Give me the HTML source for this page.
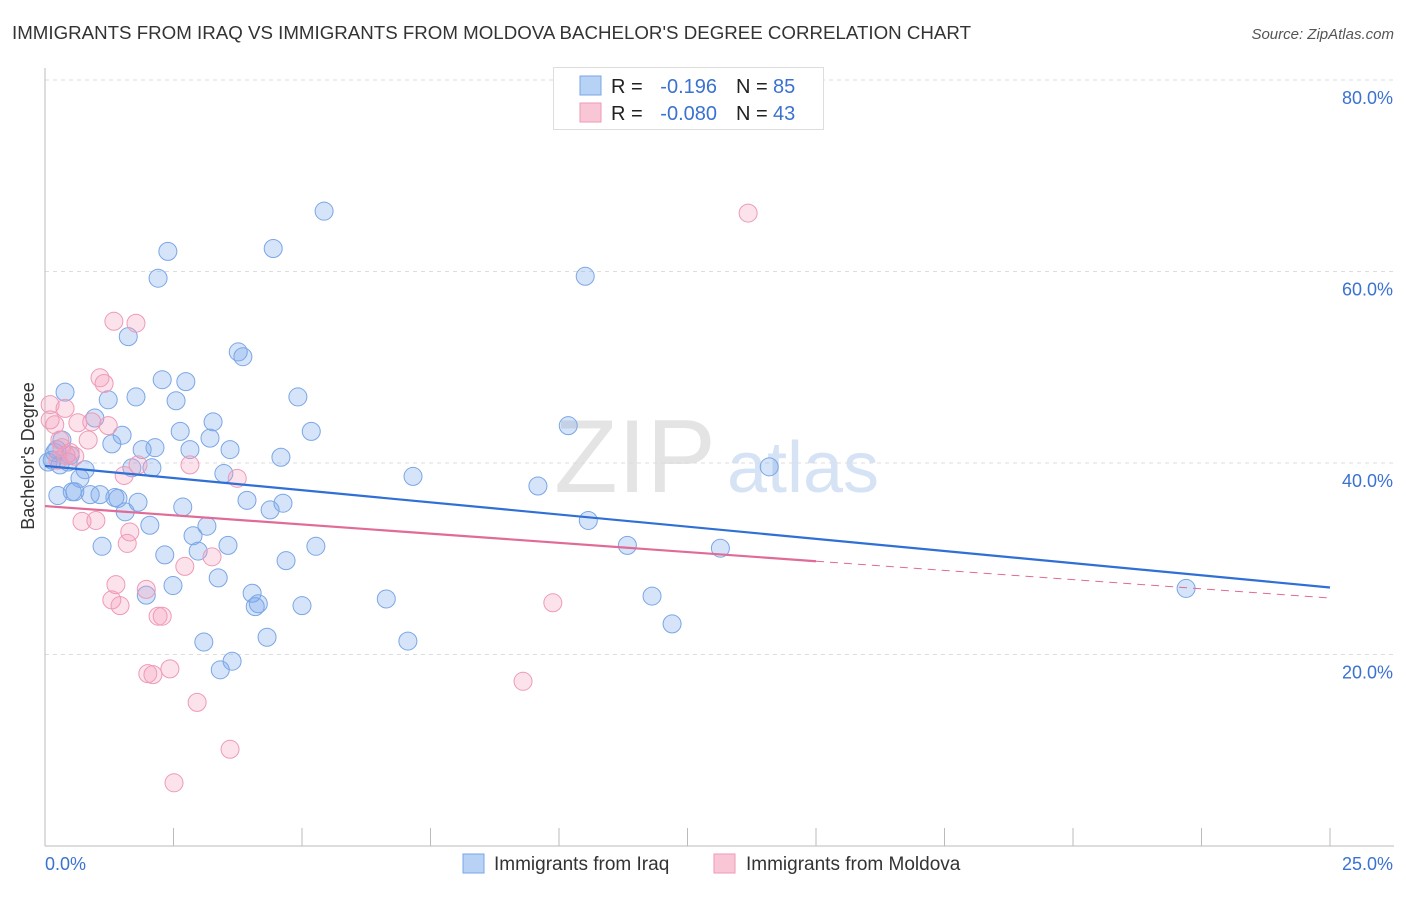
<!DOCTYPE html>
<html><head><meta charset="utf-8">
<style>
body{margin:0;background:#fff;font-family:"Liberation Sans",sans-serif;}
svg text{font-family:"Liberation Sans",sans-serif;}
</style></head>
<body>
<svg id="chart" width="1406" height="892" xmlns="http://www.w3.org/2000/svg">
<text x="12" y="39" font-size="18" fill="#333" textLength="959" lengthAdjust="spacingAndGlyphs">IMMIGRANTS FROM IRAQ VS IMMIGRANTS FROM MOLDOVA BACHELOR'S DEGREE CORRELATION CHART</text>
<text x="1394" y="39" font-size="15" fill="#555" font-style="italic" text-anchor="end">Source: ZipAtlas.com</text>
<g>
<text x="635" y="492" font-size="104" fill="#e4e4e4" font-family="Liberation Serif" text-anchor="middle">ZIP</text>
<text x="803" y="492" font-size="72" fill="#d6e3f5" text-anchor="middle">atlas</text>
</g>
<g id="grid"></g>
<g id="axes"></g>
<g id="pts"></g>
<g id="trends"></g>
<text transform="translate(34,456) rotate(-90)" font-size="18" fill="#333" text-anchor="middle">Bachelor's Degree</text>
<g>
<rect x="553.5" y="67.5" width="270" height="62" fill="#fff" stroke="#ddd"/>
<rect x="580" y="76" width="21" height="19" fill="#b8d2f5" stroke="#7aa6e6"/>
<rect x="580" y="103" width="21" height="19" fill="#f9c6d6" stroke="#ee9ab6"/>
<text x="611" y="93" font-size="20" fill="#222">R = </text><text x="717" y="93" font-size="20" fill="#3a72d0" text-anchor="end">-0.196</text>
<text x="736" y="93" font-size="20" fill="#222">N = </text><text x="773" y="93" font-size="20" fill="#3a72d0">85</text>
<text x="611" y="120" font-size="20" fill="#222">R = </text><text x="717" y="120" font-size="20" fill="#3a72d0" text-anchor="end">-0.080</text>
<text x="736" y="120" font-size="20" fill="#222">N = </text><text x="773" y="120" font-size="20" fill="#3a72d0">43</text>
</g>
<g>
<rect x="463" y="854" width="21" height="19" fill="#b8d2f5" stroke="#7aa6e6"/>
<text x="494" y="870" font-size="19" fill="#333">Immigrants from Iraq</text>
<rect x="714" y="854" width="21" height="19" fill="#f9c6d6" stroke="#ee9ab6"/>
<text x="746" y="870" font-size="19" fill="#333">Immigrants from Moldova</text>
</g>
</svg>
<script>
const yTicks=[20,40,60,80];
const yTickLabels=["20.0%","40.0%","60.0%","80.0%"];
const xTickValues=[0,2.5,5,7.5,10,12.5,15,17.5,20,22.5,25];
const xEndLabels=["0.0%","25.0%"];
const iraqX=[0.14,0.23,0.29,0.39,0.33,0.49,0.25,0.58,0.68,0.78,0.88,0.97,1.07,1.11,1.23,1.30,1.36,1.42,1.50,1.56,1.62,1.69,1.77,1.81,1.89,1.97,2.04,2.08,2.14,2.20,2.28,2.33,2.39,2.49,2.55,2.63,2.68,2.74,2.82,2.88,2.98,3.09,3.15,3.21,3.27,3.37,3.41,3.48,3.56,3.60,3.64,3.76,3.85,3.93,4.03,4.09,4.15,4.32,4.38,4.44,4.59,4.63,4.69,4.92,5.00,5.18,5.27,5.43,6.64,7.06,7.16,9.59,10.18,10.51,10.57,11.33,11.81,12.20,13.14,14.09,22.20,0.06,0.19,0.45,0.53];
const iraqY=[40.3,41.4,39.8,47.4,42.4,40.8,36.6,37.0,38.4,39.3,36.7,44.7,36.7,31.3,46.6,42.0,36.4,36.3,42.9,34.9,53.2,39.5,46.9,35.9,41.4,26.2,33.5,39.5,41.6,59.3,48.7,30.4,62.1,27.2,46.5,43.3,35.4,48.5,41.4,32.4,30.8,21.3,33.4,42.6,44.3,28.0,18.4,38.9,31.4,41.4,19.3,51.6,51.1,36.1,26.4,25.0,25.3,21.8,35.1,62.4,40.6,35.8,29.8,46.9,25.1,43.3,31.3,66.3,25.8,21.4,38.6,37.6,43.9,59.5,34.0,31.4,26.1,23.2,31.1,39.6,26.9,40.1,41.1,40.1,37.0];
const moldX=[0.10,0.19,0.29,0.33,0.39,0.49,0.58,0.72,0.84,0.91,0.99,1.07,1.15,1.23,1.30,1.38,1.46,1.54,1.60,1.65,1.34,1.77,1.81,1.97,2.00,2.10,2.20,2.28,2.43,2.72,2.82,2.96,3.25,3.60,3.74,2.51,9.30,9.88,13.68,0.10,0.25,0.41,0.64];
const moldY=[46.1,44.0,42.4,41.6,45.7,41.1,40.7,33.9,42.4,44.3,34.0,48.9,48.3,43.9,25.7,27.3,25.1,38.7,31.6,32.8,54.8,54.6,39.8,26.8,18.0,17.9,24.0,24.0,18.5,29.2,39.8,15.0,30.2,10.1,38.4,6.6,17.2,25.4,66.1,44.5,40.3,40.8,44.2];
const iraqTrend=[39.7,27.0];
const moldTrend=[35.5,25.9];
const moldSolidEnd=15;

const NS="http://www.w3.org/2000/svg";
const X0=45,X1=1330,Y0=846,PXY=191.5/20;
function sx(v){return X0+(v/25)*(X1-X0);}
function sy(v){return Y0-v*PXY;}
function mk(tag,attrs,parent){const e=document.createElementNS(NS,tag);for(const k in attrs)e.setAttribute(k,attrs[k]);parent.appendChild(e);return e;}
const grid=document.getElementById('grid'),axes=document.getElementById('axes'),pts=document.getElementById('pts'),tr=document.getElementById('trends');
yTicks.forEach((t,i)=>{
 const l=mk('line',{x1:X0,x2:1394,y1:sy(t),y2:sy(t),stroke:'#ddd','stroke-dasharray':'4,4'},grid);
 
 
 const tx=mk('text',{x:1393,y:sy(t)+24,'font-size':18,fill:'#3a72d0','text-anchor':'end'},axes);
 tx.textContent=yTickLabels[i];
 
 
});
const ax=mk('line',{x1:X0,x2:1394,y1:Y0,y2:Y0,stroke:'#bbb'},axes);


const ay=mk('line',{x1:X0,x2:X0,y1:68,y2:Y0,stroke:'#bbb'},axes);


xTickValues.forEach(v=>{
 const t=mk('line',{x1:sx(v),x2:sx(v),y1:Y0,y2:Y0-18,stroke:'#bbb'},axes);
 
 
});
const xl0=mk('text',{x:45,y:870,'font-size':18,fill:'#3a72d0'},axes);xl0.textContent=xEndLabels[0];


const xl1=mk('text',{x:1393,y:870,'font-size':18,fill:'#3a72d0','text-anchor':'end'},axes);xl1.textContent=xEndLabels[1];


iraqX.forEach((x,i)=>{
 const c=mk('circle',{cx:sx(x),cy:sy(iraqY[i]),r:9,fill:'rgba(120,165,235,0.3)',stroke:'#7aa6e6','stroke-width':1},pts);
 
 
});
moldX.forEach((x,i)=>{
 const c=mk('circle',{cx:sx(x),cy:sy(moldY[i]),r:9,fill:'rgba(245,160,190,0.3)',stroke:'#ee9ab6','stroke-width':1},pts);
 
 
});
const bl=mk('line',{x1:sx(0),y1:sy(iraqTrend[0]),x2:sx(25),y2:sy(iraqTrend[1]),stroke:'#2f6fd6','stroke-width':2.2},tr);


const ym=moldTrend[0]+(moldTrend[1]-moldTrend[0])*moldSolidEnd/25;
const pl=mk('line',{x1:sx(0),y1:sy(moldTrend[0]),x2:sx(moldSolidEnd),y2:sy(ym),stroke:'#e06b97','stroke-width':2.2},tr);


const pd=mk('line',{x1:sx(moldSolidEnd),y1:sy(ym),x2:sx(25),y2:sy(moldTrend[1]),stroke:'#e06b97','stroke-width':1,'stroke-dasharray':'8,6'},tr);


</script>
</body></html>
